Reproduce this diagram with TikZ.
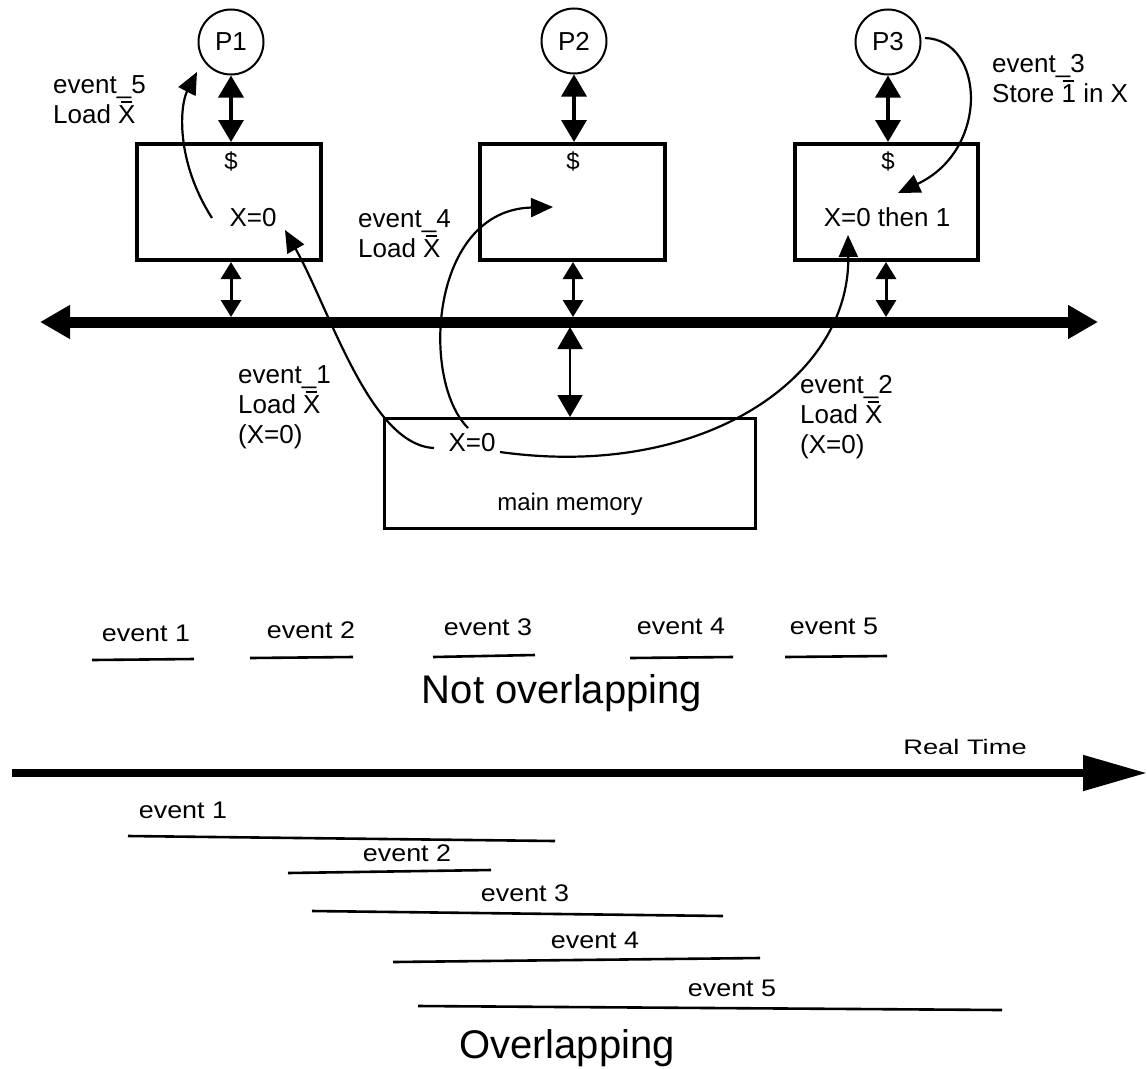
\documentclass[tikz,border=0pt]{standalone}
\usepackage{fontspec}
\setmainfont{Liberation Sans}
\usepackage{graphicx}
\usetikzlibrary{arrows.meta}

% a character with a short bar above it
\newcommand{\barX}[1]{\ooalign{#1\cr\hidewidth\raisebox{0.76em}{\rule{0.42em}{0.075em}}\hidewidth\cr}}
% horizontally widened text
\newcommand{\hwide}[2]{\scalebox{#1}[1]{#2}}

\tikzset{
  every node/.style={inner sep=0pt},
  proc/.style={circle, draw, line width=2pt, minimum size=65pt, font=\fontsize{26}{30}\selectfont},
  cachebox/.style={draw, line width=4pt, minimum height=116pt},
  membox/.style={draw, line width=3pt, minimum width=371pt, minimum height=110pt},
  lbl/.style={font=\fontsize{26}{30}\selectfont, align=left, anchor=base west},
  val/.style={font=\fontsize{26}{30}\selectfont},
  cash/.style={font=\fontsize{24}{28}\selectfont},
  evtext/.style={font=\fontsize{24}{28}\selectfont},
  bigtext/.style={font=\fontsize{40}{46}\selectfont},
  pcarrow/.style={line width=3.5pt, {Triangle[length=22pt,width=25pt]}-{Triangle[length=22pt,width=25pt]}},
  taparrow/.style={line width=3pt, {Triangle[length=17pt,width=20pt]}-{Triangle[length=17pt,width=20pt]}},
  memarrow/.style={line width=2pt, {Triangle[length=22pt,width=25pt]}-{Triangle[length=22pt,width=25pt]}},
  busline/.style={line width=11pt, {Triangle[length=30pt,width=32pt]}-{Triangle[length=30pt,width=32pt]}},
  evarrow/.style={line width=2.2pt, -{Triangle[length=22pt,width=19pt]}},
  evspan/.style={line width=2.6pt},
  timeline/.style={line width=8pt, -{Triangle[length=64pt,width=34pt]}},
}

\begin{document}
\begin{tikzpicture}[x=1pt, y=-1pt]
  \fill[white] (0,0) rectangle (1147,1068);
  \useasboundingbox (0,0) rectangle (1147,1068);

  % processors
  \node[proc] (p1) at (231,42) {P1};
  \node[proc] (p2) at (574,41) {P2};
  \node[proc] (p3) at (888,42) {P3};

  % caches
  \node[cachebox, minimum width=184pt] (c1) at (229,202) {};
  \node[cachebox, minimum width=185pt] (c2) at (572.5,202) {};
  \node[cachebox, minimum width=183pt] (c3) at (886.5,202) {};
  \node[cash] (d1) at (231,161) {\$};
  \node[cash] (d2) at (573,161) {\$};
  \node[cash] (d3) at (888,161) {\$};
  \node[val] (x1) at (253,218) {X=0};
  \node[val] (x3) at (887,217) {X=0 then 1};

  % main memory
  \node[membox] (mem) at (570,473.5) {};
  \node[val] (mx) at (472,443) {X=0};
  \node[evtext] (mlbl) at (570,504) {main memory};

  % bus
  \coordinate (busL) at (40,322);
  \coordinate (busR) at (1098,322);
  \coordinate (t1) at (231,317);
  \coordinate (t2) at (573,317);
  \coordinate (t3) at (886,317);
  \coordinate (t0) at (570,327);

  \draw[pcarrow] (p1.south) -- (p1.south |- c1.north);
  \draw[pcarrow] (p2.south) -- (p2.south |- c2.north);
  \draw[pcarrow] (p3.south) -- (p3.south |- c3.north);
  \draw[taparrow] (t1 |- c1.south) -- (t1);
  \draw[taparrow] (t2 |- c2.south) -- (t2);
  \draw[taparrow] (t3 |- c3.south) -- (t3);
  \draw[busline] (busL) -- (busR);
  \draw[memarrow] (t0) -- (mem.north);

  % event arrows
  \coordinate (e5s) at (212,218);  \coordinate (e5e) at (197,72);
  \coordinate (e1s) at (434,448);  \coordinate (e1e) at (285,230);
  \coordinate (e4s) at (468,428);  \coordinate (e4e) at (553,207);
  \coordinate (e2s) at (500,452);  \coordinate (e2e) at (848,235);
  \coordinate (e3s) at (925,38);   \coordinate (e3e) at (898,193);
  \draw[evarrow] (e5s) .. controls (175,160) and (180,105) .. (e5e);
  \draw[evarrow] (e1s) .. controls (370,445) and (330,310) .. (e1e);
  \draw[evarrow] (e4s) .. controls (420,380) and (430,210) .. (e4e);
  \draw[evarrow] (e2s) .. controls (700,480) and (850,380) .. (e2e);
  \draw[evarrow] (e3s) .. controls (985,40) and (990,150) .. (e3e);

  % event labels (anchored at the baseline of their last line)
  \node[lbl] (l5) at (53,123) {event\_5\\Load \barX{X}};
  \node[lbl] (l4) at (358,257) {event\_4\\Load \barX{X}};
  \node[lbl] (l1) at (238,443) {event\_1\\Load \barX{X}\\(X=0)};
  \node[lbl] (l2) at (800,453) {event\_2\\Load \barX{X}\\(X=0)};
  \node[lbl] (l3) at (992,102) {event\_3\\Store \barX{1} in X};

  % not overlapping events
  \node[evtext] (a1) at (146,633) {\hwide{1.12}{event 1}};
  \node[evtext] (a2) at (311,630) {\hwide{1.12}{event 2}};
  \node[evtext] (a3) at (488,627) {\hwide{1.12}{event 3}};
  \node[evtext] (a4) at (681,626) {\hwide{1.12}{event 4}};
  \node[evtext] (a5) at (834,626) {\hwide{1.12}{event 5}};
  \coordinate (a1l) at (92,660);  \coordinate (a1r) at (194,659);
  \coordinate (a2l) at (250,658); \coordinate (a2r) at (353,657);
  \coordinate (a3l) at (433,657); \coordinate (a3r) at (535,655);
  \coordinate (a4l) at (630,658); \coordinate (a4r) at (733,657);
  \coordinate (a5l) at (785,657); \coordinate (a5r) at (887,656);
  \draw[evspan] (a1l) -- (a1r);
  \draw[evspan] (a2l) -- (a2r);
  \draw[evspan] (a3l) -- (a3r);
  \draw[evspan] (a4l) -- (a4r);
  \draw[evspan] (a5l) -- (a5r);
  \node[bigtext] (notov) at (562,693) {Not overlapping};

  % real time axis
  \coordinate (tl) at (12,773);
  \coordinate (tr) at (1147,773);
  \draw[timeline] (tl) -- (tr);
  \node[font=\fontsize{21}{24}\selectfont] (rt) at (965,747) {\hwide{1.3}{Real Time}};

  % overlapping events
  \node[evtext] (b1) at (183,810) {\hwide{1.12}{event 1}};
  \node[evtext] (b2) at (407,853) {\hwide{1.12}{event 2}};
  \node[evtext] (b3) at (525,893) {\hwide{1.12}{event 3}};
  \node[evtext] (b4) at (595,940) {\hwide{1.12}{event 4}};
  \node[evtext] (b5) at (732,988) {\hwide{1.12}{event 5}};
  \coordinate (b1l) at (128,836);  \coordinate (b1r) at (555,841);
  \coordinate (b2l) at (288,873);  \coordinate (b2r) at (491,870);
  \coordinate (b3l) at (312,911);  \coordinate (b3r) at (723,916);
  \coordinate (b4l) at (393,962);  \coordinate (b4r) at (760,958);
  \coordinate (b5l) at (418,1006); \coordinate (b5r) at (1002,1010);
  \draw[evspan] (b1l) -- (b1r);
  \draw[evspan] (b2l) -- (b2r);
  \draw[evspan] (b3l) -- (b3r);
  \draw[evspan] (b4l) -- (b4r);
  \draw[evspan] (b5l) -- (b5r);
  \node[bigtext] (ov) at (567,1048) {Overlapping};
\end{tikzpicture}
\end{document}
